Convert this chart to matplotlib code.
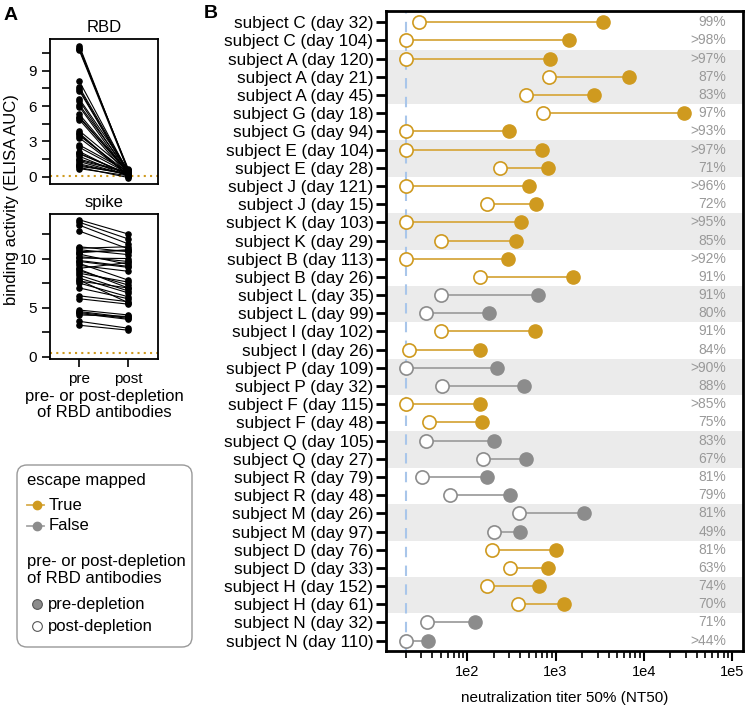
import numpy as np
import matplotlib
matplotlib.use("Agg")
import matplotlib.pyplot as plt
from matplotlib.patches import FancyBboxPatch
from matplotlib.lines import Line2D
from matplotlib.ticker import FixedLocator, FuncFormatter, LogLocator, NullFormatter

plt.rcParams['font.family'] = ['Liberation Sans', 'DejaVu Sans']

# panel A: ELISA binding, pre / post RBD depletion
rbd_pre = [11.1, 10.95, 10.8, 10.7, 8.1, 7.6, 7.45, 7.3, 6.6, 6.45, 6.1, 5.95, 5.3, 5.1,
           4.85, 3.9, 3.7, 3.5, 3.3, 2.7, 2.5, 2.15, 1.95, 1.75, 1.5, 1.3, 1.1, 0.9, 0.7,
           1.0, 1.4, 2.0, 3.6, 5.0, 0.8]
rbd_post = [0.55, 0.6, 0.7, 0.5, 0.4, 0.45, 0.3, 0.35, 0.6, 0.25, 0.5, 0.2, 0.4, 0.3,
            0.15, 0.5, 0.1, 0.35, 0.2, 0.45, 0.3, 0.1, 0.25, 0.05, 0.4, 0.15, 0.2, 0.3,
            0.1, 0.2, 0.35, 0.25, 0.15, 0.45, -0.05]
spike_pre = [13.95, 13.7, 13.4, 12.8, 11.2, 11.05, 10.9, 10.7, 10.45, 10.2, 10.05, 9.7,
             9.5, 9.3, 9.0, 8.75, 8.5, 8.3, 8.0, 7.7, 7.5, 7.0, 6.2, 5.9, 4.75, 4.6, 4.4,
             4.25, 3.6, 3.2, 10.6, 9.8, 8.9, 7.8, 4.5]
spike_post = [12.5, 12.0, 11.5, 11.0, 10.7, 11.2, 10.4, 10.8, 9.4, 9.7, 10.0, 9.1, 7.8,
              8.7, 9.6, 7.3, 7.6, 6.7, 6.5, 7.0, 6.1, 5.9, 5.6, 5.35, 4.25, 4.0, 3.8, 4.1,
              2.9, 2.7, 10.9, 9.2, 7.0, 5.5, 3.9]
rbd_lod = 0.05
spike_lod = 0.4

# panel B: NT50 pre / post depletion
labels = ["subject C (day 32)", "subject C (day 104)", "subject A (day 120)",
          "subject A (day 21)", "subject A (day 45)", "subject G (day 18)",
          "subject G (day 94)", "subject E (day 104)", "subject E (day 28)",
          "subject J (day 121)", "subject J (day 15)", "subject K (day 103)",
          "subject K (day 29)", "subject B (day 113)", "subject B (day 26)",
          "subject L (day 35)", "subject L (day 99)", "subject I (day 102)",
          "subject I (day 26)", "subject P (day 109)", "subject P (day 32)",
          "subject F (day 115)", "subject F (day 48)", "subject Q (day 105)",
          "subject Q (day 27)", "subject R (day 79)", "subject R (day 48)",
          "subject M (day 26)", "subject M (day 97)", "subject D (day 76)",
          "subject D (day 33)", "subject H (day 152)", "subject H (day 61)",
          "subject N (day 32)", "subject N (day 110)"]
nt50_pre = [3470, 1410, 863, 6870, 2735, 28800, 294, 711, 817, 506, 608, 409, 353, 289,
            1574, 632, 174, 586, 141, 219, 436, 141, 148, 203, 466, 169, 308, 2128, 394,
            1019, 832, 643, 1247, 122, 36]
nt50_post = [28.6, 20, 20, 848, 457, 725, 20, 20, 235, 20, 169, 20, 51, 20, 138, 51, 34,
             51, 21.7, 20, 51.5, 20, 37, 34, 151, 30.5, 64, 387, 203, 190, 305, 167, 377,
             35, 20]
escape_subjects = ["C", "A", "G", "E", "J", "K", "B", "I", "F", "D", "H"]
pct = ["99%", ">98%", ">97%", "87%", "83%", "97%", ">93%", ">97%", "71%", ">96%", "72%",
       ">95%", "85%", ">92%", "91%", "91%", "80%", "91%", "84%", ">90%", "88%", ">85%",
       "75%", "83%", "67%", "81%", "79%", "81%", "49%", "81%", "63%", "74%", "70%", "71%",
       ">44%"]
nt50_lod = 20

GOLD = '#CF9A1F'
GOLD_LINE = '#D9AE4E'
GRAY = '#8C8C8C'
GRAY_LINE = '#A6A6A6'

W, H = 745, 708
fig = plt.figure(figsize=(W / 100, H / 100), dpi=100)


def box(l, t, r, b):
    return [l / W, 1 - b / H, (r - l) / W, (b - t) / H]


def paired(ax, pre, post, lod, ylim, major, minor, title):
    for a, b in zip(pre, post):
        ax.plot([0, 1], [a, b], color='black', lw=0.8, zorder=2)
    ax.scatter(np.zeros(len(pre)), pre, s=14, color='black', zorder=3)
    ax.scatter(np.ones(len(post)), post, s=14, color='black', zorder=3)
    ax.axhline(lod, color=GOLD, ls=(0, (1, 2)), lw=1.5, zorder=1)
    ax.set_xlim(-0.6, 1.61)
    ax.set_ylim(*ylim)
    ax.yaxis.set_major_locator(FixedLocator(major))
    ax.yaxis.set_minor_locator(FixedLocator(minor))
    ax.tick_params(axis='y', which='both', length=6, width=1.2, labelsize=11)
    ax.tick_params(axis='x', length=6, width=1.2, labelsize=11)
    ax.set_title(title, fontsize=12, pad=5)
    for s in ax.spines.values():
        s.set_linewidth(1.3)


ax1 = fig.add_axes(box(50, 39, 158, 184))
paired(ax1, rbd_pre, rbd_post, rbd_lod, (-0.6, 11.67), [0, 3, 6, 9], [1.5, 4.5, 7.5, 10.5], 'RBD')
ax1.set_xticks([])

ax2 = fig.add_axes(box(50, 214, 158, 359))
paired(ax2, spike_pre, spike_post, spike_lod, (-0.24, 14.54), [0, 5, 10], [2.5, 7.5, 12.5], 'spike')
ax2.set_xticks([0, 1])
ax2.set_xticklabels(['pre', 'post'])
ax2.set_xlabel('pre- or post-depletion\nof RBD antibodies', fontsize=12, labelpad=2, linespacing=1.1)

fig.text(12 / W, 1 - 200 / H, 'binding activity (ELISA AUC)', rotation=90, fontsize=12,
         ha='center', va='center')
fig.text(4 / W, 1 - 15 / H, 'A', fontsize=14, fontweight='bold', va='center')
fig.text(204 / W, 1 - 13 / H, 'B', fontsize=14, fontweight='bold', va='center')

# legend drawn in its own pixel-unit axes
lg = fig.add_axes(box(14, 462, 195, 650))
lg.set_xlim(0, 181)
lg.set_ylim(188, 0)
lg.axis('off')
lg.add_patch(FancyBboxPatch((3, 3), 175, 182, boxstyle='round,pad=0,rounding_size=10',
                            fc='white', ec='#999999', lw=1.0, clip_on=False))
lg.text(13, 18, 'escape mapped', fontsize=12, va='center')
for yy, c, lc, lab in [(43, GOLD, GOLD_LINE, 'True'), (64, GRAY, GRAY_LINE, 'False')]:
    lg.add_line(Line2D([13, 30], [yy, yy], color=lc, lw=1.3))
    lg.add_line(Line2D([23], [yy], marker='o', ms=6, color=c, mec=c))
    lg.text(35, yy, lab, fontsize=12, va='center')
lg.text(13, 108, 'pre- or post-depletion\nof RBD antibodies', fontsize=12, va='center',
        linespacing=1.1)
lg.add_line(Line2D([23], [142], marker='o', ms=7, color=GRAY, mec='#555555', mew=0.8))
lg.text(34, 142, 'pre-depletion', fontsize=12, va='center')
lg.add_line(Line2D([23], [164], marker='o', ms=7, mfc='white', mec='#555555', mew=0.8))
lg.text(34, 164, 'post-depletion', fontsize=12, va='center')

# panel B
ax3 = fig.add_axes(box(386, 11, 743, 651))
n = len(labels)
ypos = np.arange(n)
subjects = [l.split()[1] for l in labels]
group = 0
for i in range(n):
    if i > 0 and subjects[i] != subjects[i - 1]:
        group += 1
    if group % 2 == 1:
        ax3.axhspan(i - 0.5, i + 0.5, color='#EBEBEB', lw=0, zorder=0)

ax3.axvline(nt50_lod, color='#A9C6EA', ls=(0, (5, 4)), lw=1.5, zorder=1)
for i in range(n):
    esc = subjects[i] in escape_subjects
    c = GOLD if esc else GRAY
    lc = GOLD_LINE if esc else GRAY_LINE
    ax3.plot([nt50_post[i], nt50_pre[i]], [ypos[i], ypos[i]], color=lc, lw=1.4, zorder=2)
    ax3.plot(nt50_pre[i], ypos[i], 'o', ms=9.5, color=c, mec=c, zorder=3)
    ax3.plot(nt50_post[i], ypos[i], 'o', ms=9.5, mfc='white', mec=c, mew=1.2, zorder=4)
    ax3.text(0.953, ypos[i], pct[i], transform=ax3.get_yaxis_transform(), ha='right',
             va='center', fontsize=10, color='#999999', zorder=5)

ax3.set_xscale('log')
ax3.set_xlim(12, 1.33e5)
ax3.set_ylim(n - 1 + 0.57, -0.62)
ax3.set_yticks(ypos)
ax3.set_yticklabels(labels, fontsize=12.3)
ax3.xaxis.set_major_locator(FixedLocator([1e2, 1e3, 1e4, 1e5]))
ax3.xaxis.set_major_formatter(FuncFormatter(lambda v, p: '1e%d' % round(np.log10(v))))
ax3.xaxis.set_minor_locator(LogLocator(base=10, subs=np.arange(2, 10), numticks=20))
ax3.xaxis.set_minor_formatter(NullFormatter())
ax3.tick_params(axis='y', length=7, width=2, pad=2)
ax3.tick_params(axis='x', which='major', length=7, width=1.5, labelsize=10.5, pad=3)
ax3.tick_params(axis='x', which='minor', length=5, width=1.2)
ax3.set_xlabel('neutralization titer 50% (NT50)', fontsize=11, labelpad=9)
for s in ax3.spines.values():
    s.set_linewidth(2)

fig.savefig('out.png', dpi=100)
